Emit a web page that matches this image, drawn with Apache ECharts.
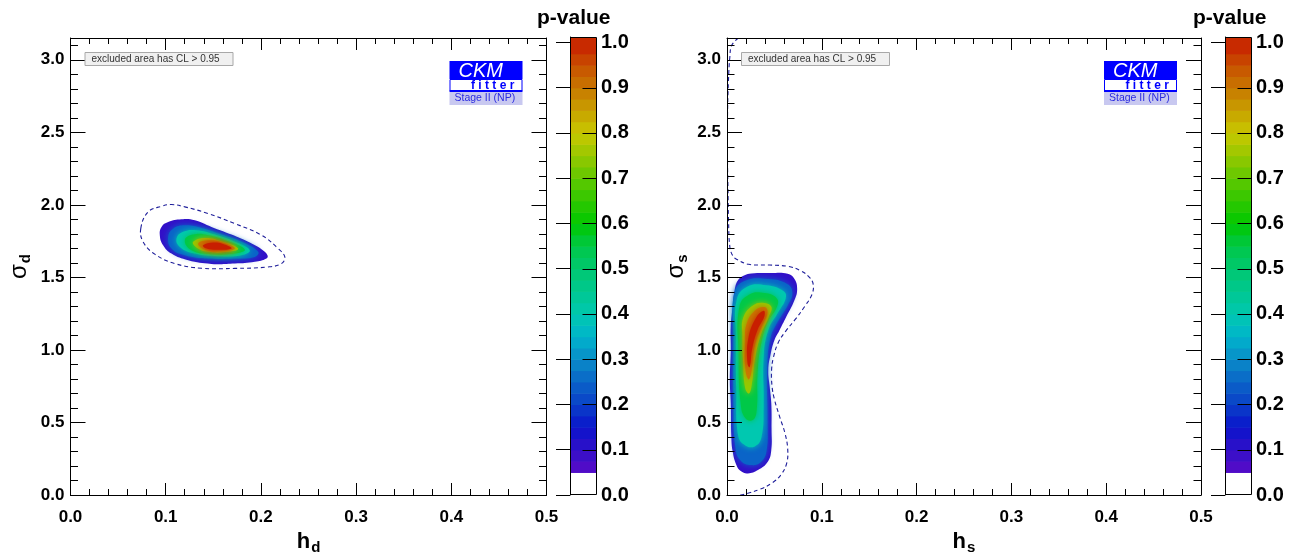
<!DOCTYPE html>
<html><head><meta charset="utf-8">
<script src="https://cdn.jsdelivr.net/npm/echarts@6/dist/echarts.min.js"></script>
<style>html,body{margin:0;padding:0;background:#fff}#c{width:1298px;height:553px}</style>
</head><body><div id="c"></div><script>
// ---------------- data ----------------
const xTickLabels = ['0.0','0.1','0.2','0.3','0.4','0.5'];
const pLevels = [0.05, 0.2, 0.35, 0.5, 0.7, 0.85, 0.95];
// left panel: p-value contours in (h_d, sigma_d)
const hd05 = [[0.0938,1.791],[0.0956,1.848],[0.1026,1.882],[0.1166,1.901],[0.1306,1.894],[0.1481,1.848],[0.1691,1.795],[0.1866,1.745],[0.2006,1.694],[0.2069,1.653],[0.2058,1.630],[0.1936,1.607],[0.1726,1.595],[0.1481,1.593],[0.1236,1.618],[0.1061,1.664],[0.0973,1.722]];
const hd20 = [[0.1026,1.779],[0.1078,1.836],[0.1201,1.859],[0.1376,1.841],[0.1586,1.795],[0.1796,1.745],[0.1971,1.676],[0.1936,1.641],[0.1726,1.630],[0.1446,1.630],[0.1201,1.653],[0.1061,1.699]];
const hd35 = [[0.1113,1.768],[0.1183,1.814],[0.1323,1.825],[0.1516,1.795],[0.1726,1.745],[0.1883,1.687],[0.1796,1.653],[0.1551,1.646],[0.1306,1.664],[0.1148,1.710]];
const hd50 = [[0.1201,1.756],[0.1288,1.795],[0.1446,1.791],[0.1656,1.749],[0.1831,1.692],[0.1726,1.664],[0.1481,1.660],[0.1271,1.687]];
const hd70 = [[0.1288,1.745],[0.1411,1.772],[0.1586,1.749],[0.1761,1.699],[0.1656,1.676],[0.1446,1.676],[0.1323,1.706]];
const hd85 = [[0.1341,1.733],[0.1463,1.756],[0.1621,1.733],[0.1726,1.699],[0.1603,1.683],[0.1428,1.687]];
const hd95 = [[0.1393,1.722],[0.1516,1.740],[0.1656,1.717],[0.1691,1.699],[0.1568,1.690],[0.1428,1.699]];
const hdDashed = [[0.0738,1.836],[0.0815,1.951],[0.0956,1.990],[0.1061,2.002],[0.1201,1.986],[0.1446,1.940],[0.1726,1.871],[0.2006,1.791],[0.2181,1.699],[0.2251,1.641],[0.2216,1.595],[0.2076,1.572],[0.1726,1.562],[0.1376,1.563],[0.1096,1.595],[0.0885,1.660],[0.0763,1.745]];
// right panel: p-value contours in (h_s, sigma_s)
const hs05 = [[0.0186,1.515],[0.0257,1.527],[0.045,1.530],[0.064,1.525],[0.071,1.49],[0.074,1.42],[0.071,1.34],[0.0625,1.228],[0.055,1.13],[0.050,1.067],[0.046,0.97],[0.0435,0.86],[0.045,0.75],[0.0467,0.632],[0.047,0.45],[0.0467,0.31],[0.043,0.229],[0.0326,0.172],[0.022,0.149],[0.0145,0.165],[0.0099,0.207],[0.006,0.3],[0.0046,0.402],[0.004,0.632],[0.003,0.792],[0.004,1.0],[0.0039,1.159],[0.006,1.3],[0.008,1.41],[0.0116,1.48]];
const hs20 = [[0.0077,1.392],[0.0192,1.477],[0.0436,1.489],[0.064,1.453],[0.0689,1.392],[0.064,1.307],[0.0538,1.197],[0.0456,1.076],[0.0424,0.857],[0.0428,0.493],[0.0416,0.299],[0.0355,0.226],[0.0253,0.206],[0.0143,0.238],[0.009,0.323],[0.0069,0.615],[0.0069,1.100]];
const hs35 = [[0.0102,1.343],[0.0212,1.435],[0.0416,1.445],[0.0599,1.404],[0.0619,1.355],[0.0538,1.258],[0.0436,1.137],[0.0387,0.955],[0.0387,0.615],[0.0363,0.396],[0.0293,0.335],[0.0192,0.342],[0.0118,0.408],[0.0098,0.736],[0.0094,1.100]];
const hs50 = [[0.013,1.295],[0.0232,1.380],[0.0395,1.392],[0.0526,1.355],[0.0526,1.295],[0.0436,1.197],[0.0363,1.052],[0.0322,0.833],[0.0314,0.590],[0.0273,0.517],[0.0192,0.530],[0.0143,0.639],[0.0122,0.979]];
const hs70 = [[0.0171,1.222],[0.0273,1.307],[0.0395,1.324],[0.0469,1.295],[0.0436,1.222],[0.0355,1.100],[0.0293,0.930],[0.0261,0.760],[0.0232,0.700],[0.0192,0.736],[0.0171,0.906],[0.0163,1.100]];
const hs85 = [[0.0204,1.173],[0.0293,1.270],[0.0395,1.295],[0.0428,1.258],[0.0375,1.173],[0.0293,1.028],[0.0253,0.833],[0.0224,0.797],[0.0192,0.882],[0.0192,1.052]];
const hs95 = [[0.0224,1.076],[0.0306,1.222],[0.0387,1.270],[0.0395,1.234],[0.0322,1.137],[0.0265,1.004],[0.0240,0.882],[0.0216,0.906]];
const hsDashed = [[0.012,3.15],[0.005,3.10],[0.003,3.02],[0.0015,2.85],[0.0005,2.6],[0.0005,2.3],[0.001,2.12],[0.0016,1.90],[0.003,1.71],[0.006,1.65],[0.010,1.625],[0.023,1.59],[0.045,1.585],[0.065,1.575],[0.078,1.545],[0.087,1.50],[0.091,1.45],[0.0895,1.38],[0.082,1.30],[0.072,1.21],[0.062,1.13],[0.054,1.05],[0.049,0.95],[0.047,0.86],[0.0475,0.75],[0.050,0.66],[0.056,0.53],[0.061,0.43],[0.064,0.32],[0.063,0.22],[0.057,0.14],[0.048,0.085],[0.035,0.04],[0.022,0.012],[0.014,0]];
const cbTickLabels = ['0.0','0.1','0.2','0.3','0.4','0.5','0.6','0.7','0.8','0.9','1.0'];
const cbTickValues = [0.1,0.2,0.3,0.4,0.5,0.6,0.7,0.8,0.9];

// ---------------- styling ----------------
const FONT = 'Liberation Sans';
const palStops = [[0.05,'#5a0ac8'],[0.10,'#3210c8'],[0.15,'#0a14cc'],[0.20,'#0a40c8'],[0.25,'#0a64c8'],[0.30,'#0a8cc8'],[0.35,'#00b4cc'],[0.40,'#00c8b0'],[0.45,'#00c890'],[0.50,'#00c870'],[0.55,'#00c848'],[0.60,'#00c800'],[0.65,'#30c800'],[0.70,'#60c800'],[0.75,'#96c800'],[0.80,'#c8c800'],[0.85,'#c8a000'],[0.90,'#c87800'],[0.95,'#c85000'],[1.00,'#c81e00']];
function hex(c){return [parseInt(c.slice(1,3),16),parseInt(c.slice(3,5),16),parseInt(c.slice(5,7),16)];}
function pal(v){
  if (v<=palStops[0][0]) return palStops[0][1];
  for (let i=1;i<palStops.length;i++){
    if (v<=palStops[i][0]){
      const a=hex(palStops[i-1][1]), b=hex(palStops[i][1]);
      const t=(v-palStops[i-1][0])/(palStops[i][0]-palStops[i-1][0]);
      return 'rgb('+a.map((x,k)=>Math.round(x+(b[k]-x)*t)).join(',')+')';
    }
  }
  return palStops[palStops.length-1][1];
}
const cbMax = 1.012;
const cbBands = [[0,0.05,'#ffffff']];
for (let lo=0.05; lo<0.99; lo+=0.025){ const hi = lo+0.025>0.99 ? cbMax : lo+0.025; cbBands.push([lo,hi,pal(lo+0.0125)]); }

const mainGrids = [{left:70.5, top:38, width:476, height:457},{left:727, top:38, width:474, height:457}];
const cbGrids = [{left:570, top:37, width:26, height:458},{left:1225, top:37, width:26, height:458}];

function xAx(g, pos, labels, name){
  return {type:'value', gridIndex:g, position:pos, min:0, max:0.5, interval:0.1, z:5,
    axisLine:{show:true,onZero:false,lineStyle:{color:'#000',width:1}},
    axisTick:{show:true,inside:true,length:12,lineStyle:{color:'#000'}},
    minorTick:{show:true,splitNumber:5,length:6,lineStyle:{color:'#000'}},
    splitLine:{show:false}, minorSplitLine:{show:false},
    axisLabel:{show:labels, formatter:v=>xTickLabels[Math.round(v*10)], fontFamily:FONT, fontWeight:'bold', fontSize:17, color:'#000', margin:14},
    name: name||'', nameLocation:'middle', nameGap:28,
    nameTextStyle:{rich:{h:{fontFamily:FONT,fontWeight:'bold',fontSize:22,color:'#000'},s:{fontFamily:FONT,fontWeight:'bold',fontSize:15,color:'#000',padding:[12,0,0,1]}}}
  };
}
function yAx(g, pos, major, labels, name){
  return {type:'value', gridIndex:g, position:pos, min:0, max:3.15, interval: major?0.5:0.1, z:5,
    axisLine:{show:major,onZero:false,lineStyle:{color:'#000',width:1}},
    axisTick:{show:true,inside:true,length: major?15:7.5,lineStyle:{color:'#000'}},
    splitLine:{show:false},
    axisLabel:{show:labels, showMaxLabel:false, formatter:v=>v.toFixed(1), fontFamily:FONT, fontWeight:'bold', fontSize:17, color:'#000', margin:6},
    name: name||'', nameLocation:'middle', nameGap:37,
    nameTextStyle:{rich:{g:{fontFamily:'Liberation Sans',fontSize:24,color:'#000'},s:{fontFamily:FONT,fontWeight:'bold',fontSize:15,color:'#000',padding:[13,0,0,1]}}}
  };
}
function cbX(g){ return {type:'value', gridIndex:g, min:0, max:1, show:false}; }
function cbY(g){
  return {type:'value', gridIndex:g, position:'right', min:0, max:cbMax, interval:0.1, z:5,
    axisLine:{show:true,lineStyle:{color:'#000',width:1}},
    axisTick:{show:true,inside:true,length:14,lineStyle:{color:'#000'}},
    splitLine:{show:false},
    axisLabel:{showMaxLabel:false, formatter:v=>cbTickLabels[Math.round(v*10)], fontFamily:FONT, fontWeight:'bold', fontSize:20, color:'#000', margin:5}
  };
}

function contourSeries(xi, yi, list){
  const items = list.map((pts,i)=>({pts, level:pLevels[i]}));
  return {type:'custom', coordinateSystem:'cartesian2d', xAxisIndex:xi, yAxisIndex:yi, clip:true, silent:true, z:-1,
    data: items.map(c=>c.pts[0]),
    renderItem:(params, api)=>{
      const c = items[params.dataIndex];
      const fill = pal(Math.min(1, c.level + 0.05));
      const pts = c.pts.map(p=>api.coord(p));
      const style = {fill};
      if (params.dataIndex>0){ style.shadowBlur = 6; style.shadowColor = fill; }
      return {type:'polygon', shape:{points:pts, smooth:0.45}, style};
    }};
}
function dashedSeries(xi, yi, pts, closed){
  return {type:'custom', coordinateSystem:'cartesian2d', xAxisIndex:xi, yAxisIndex:yi, clip:true, silent:true, z:-1,
    data:[pts[0]],
    renderItem:(params, api)=>({type: closed?'polygon':'polyline', shape:{points: pts.map(p=>api.coord(p)), smooth:0.4},
      style:{fill:'none', stroke:'#1e1e9a', lineWidth:1.1, lineDash:[4,3]}})
  };
}
function cbSeries(xi, yi){
  const data = cbBands.map(b=>[0.5, b[0], b[1]]);
  data.push([0.5, 0, cbMax]); // frame + ticks
  return {type:'custom', coordinateSystem:'cartesian2d', xAxisIndex:xi, yAxisIndex:yi, silent:true, z:2,
    data,
    renderItem:(params, api)=>{
      const i = params.dataIndex;
      if (i === cbBands.length){
        const p0 = api.coord([0, 0]), p1 = api.coord([1, cbMax]);
        const xr = Math.round(p1[0]) + 0.5;
        const children = [{type:'rect', shape:{x:Math.round(p0[0])+0.5, y:Math.round(p1[1])+0.5, width:Math.round(p1[0]-p0[0]), height:Math.round(p0[1]-p1[1])-1}, style:{fill:'none', stroke:'#000', lineWidth:1}}];
        cbTickValues.forEach(v=>{
          const y = Math.round(api.coord([1, v])[1]) + 0.5;
          children.push({type:'line', shape:{x1:xr-14, y1:y, x2:xr, y2:y}, style:{stroke:'#000', lineWidth:1}});
        });
        return {type:'group', children};
      }
      const b = cbBands[i];
      const p0 = api.coord([0, b[0]]), p1 = api.coord([1, b[1]]);
      return {type:'rect', shape:{x:p0[0], y:p1[1], width:p1[0]-p0[0], height:p0[1]-p1[1]+0.6}, style:{fill:b[2]}};
    }};
}

function decorations(g){
  const x0 = g.left, xr = g.left + g.width;
  const els = [];
  // legend box
  els.push({type:'rect', shape:{x:x0+14.5, y:52.5, width:148, height:13}, style:{fill:'#f0f0f0', stroke:'#a8a8a8', lineWidth:1}, z:10});
  els.push({type:'text', x:x0+21, y:59.5, style:{text:'excluded area has CL > 0.95', font:'10px "Liberation Sans"', fill:'#333', textVerticalAlign:'middle'}, z:11});
  // CKMfitter logo
  const lx = xr - 97;
  els.push({type:'rect', shape:{x:lx, y:61, width:73, height:18}, style:{fill:'#0000ff'}, z:10});
  els.push({type:'text', x:lx+9, y:71, style:{text:'CKM', font:'italic 20px "Liberation Sans"', fill:'#fff', textVerticalAlign:'middle'}, z:11});
  els.push({type:'rect', shape:{x:lx+0.5, y:79.5, width:72, height:11}, style:{fill:'#fff', stroke:'#0000ff', lineWidth:1}, z:10});
  els.push({type:'rect', shape:{x:lx, y:90, width:73, height:2}, style:{fill:'#0000ff'}, z:11});
  els.push({type:'text', x:lx+21.5, y:85.5, style:{text:'f i t t e r', font:'bold 12px "Liberation Sans"', fill:'#0000ff', textVerticalAlign:'middle'}, z:11});
  els.push({type:'rect', shape:{x:lx, y:92, width:73, height:13}, style:{fill:'#c8c8f0'}, z:10});
  els.push({type:'text', x:lx+5, y:98.5, style:{text:'Stage II (NP)', font:'10.5px "Liberation Sans"', fill:'#2a2ae0', textVerticalAlign:'middle'}, z:11});
  return els;
}

const chart = echarts.init(document.getElementById('c'), null, {renderer:'canvas'});
chart.setOption({
  animation:false,
  backgroundColor:'#fff',
  title:[
    {text:'p-value', left:532, top:3, textStyle:{fontFamily:FONT,fontWeight:'bold',fontSize:21,color:'#000'}},
    {text:'p-value', left:1188, top:3, textStyle:{fontFamily:FONT,fontWeight:'bold',fontSize:21,color:'#000'}}
  ],
  grid:[...mainGrids, ...cbGrids].map(g=>Object.assign({containLabel:false, outerBoundsMode:'none', show:false}, g)),
  xAxis:[
    xAx(0,'bottom',true,'{h|h}{s|d}'), xAx(0,'top',false),
    xAx(1,'bottom',true,'{h|h}{s|s}'), xAx(1,'top',false),
    cbX(2), cbX(3)
  ],
  yAxis:[
    yAx(0,'left',true,true,'{g|σ}{s|d}'), yAx(0,'left',false,false), yAx(0,'right',true,false), yAx(0,'right',false,false),
    yAx(1,'left',true,true,'{g|σ}{s|s}'), yAx(1,'left',false,false), yAx(1,'right',true,false), yAx(1,'right',false,false),
    cbY(2), cbY(3)
  ],
  series:[
    contourSeries(0,0,[hd05,hd20,hd35,hd50,hd70,hd85,hd95]),
    dashedSeries(0,0,hdDashed,true),
    contourSeries(2,4,[hs05,hs20,hs35,hs50,hs70,hs85,hs95]),
    dashedSeries(2,4,hsDashed,false),
    cbSeries(4,8), cbSeries(5,9)
  ],
  graphic:[...decorations(mainGrids[0]), ...decorations(mainGrids[1])]
});
</script></body></html>
